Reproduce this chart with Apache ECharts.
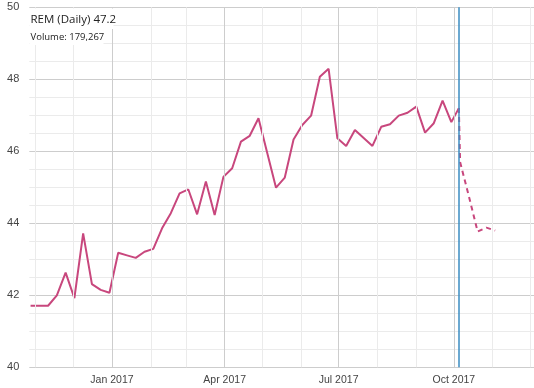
<!DOCTYPE html>
<html><head><meta charset="utf-8">
<script src="https://cdn.jsdelivr.net/npm/echarts@6/dist/echarts.min.js"></script>
<style>html,body{margin:0;padding:0;background:#fff}#c{width:534px;height:388px}</style>
</head><body><div id="c"></div>
<script>
// ---- data ----
const actualDates = [
 '2016-10-28','2016-11-04','2016-11-11','2016-11-18','2016-11-25','2016-12-02','2016-12-09','2016-12-16','2016-12-23','2016-12-30',
 '2017-01-06','2017-01-13','2017-01-20','2017-01-27','2017-02-03','2017-02-10','2017-02-17','2017-02-24','2017-03-03','2017-03-10',
 '2017-03-17','2017-03-24','2017-03-31','2017-04-07','2017-04-14','2017-04-21','2017-04-28','2017-05-05','2017-05-12','2017-05-19',
 '2017-05-26','2017-06-02','2017-06-09','2017-06-16','2017-06-23','2017-06-30','2017-07-07','2017-07-14','2017-07-21','2017-07-28',
 '2017-08-04','2017-08-11','2017-08-18','2017-08-25','2017-09-01','2017-09-08','2017-09-15','2017-09-22','2017-09-29','2017-10-05'
];
const actualValues = [
 41.71,41.71,41.71,42.00,42.63,41.92,43.72,42.31,42.15,42.07,
 43.18,43.11,43.04,43.21,43.29,43.86,44.28,44.83,44.94,44.25,
 45.16,44.23,45.29,45.53,46.27,46.43,46.92,45.95,44.99,45.27,
 46.33,46.73,46.99,48.07,48.29,46.36,46.15,46.59,46.37,46.15,
 46.68,46.75,46.99,47.07,47.24,46.52,46.78,47.41,46.81,47.20
];
const forecastDates = ['2017-10-05','2017-10-06','2017-10-13','2017-10-20','2017-10-27','2017-11-03'];
const forecastValues = [47.20,45.70,44.75,43.77,43.88,43.80];
const monthLines = ['2016-11-01','2016-12-01','2017-01-01','2017-02-01','2017-03-01','2017-04-01','2017-05-01',
 '2017-06-01','2017-07-01','2017-08-01','2017-09-01','2017-10-01','2017-11-01','2017-12-01'];
const quarterLabels = ['2017-01-01','2017-04-01','2017-07-01','2017-10-01'];
const monthNames = ['Jan','Feb','Mar','Apr','May','Jun','Jul','Aug','Sep','Oct','Nov','Dec'];
const markerDate = '2017-10-05';
const headline = 'REM (Daily) 47.2';
const volumeText = 'Volume: 179,267';
const xMin = '2016-10-27', xMax = '2017-12-04';
const yMin = 40, yMax = 50, yStep = 0.5;

function ts(s){ const p = s.split('-').map(Number); return Date.UTC(p[0], p[1]-1, p[2]); }

const chart = echarts.init(document.getElementById('c'), null, {renderer:'canvas'});
const lineColor = '#c8477d';
const majorGrid = '#cdcdcd', minorGrid = '#ebebeb';

chart.setOption({
  animation:false,
  grid:{left:29.3, right:0, top:7.3, bottom:20.7, containLabel:false},
  xAxis:{
    type:'value', min:ts(xMin), max:ts(xMax), scale:true,
    axisLine:{show:false}, axisTick:{show:false}, splitLine:{show:false},
    axisLabel:{
      customValues: quarterLabels.map(ts),
      formatter: v => { const d = new Date(v); return monthNames[d.getUTCMonth()] + ' ' + d.getUTCFullYear(); },
      color:'#444', fontSize:10.5, fontFamily:'"Liberation Sans", Arial, sans-serif', margin:7, hideOverlap:false
    }
  },
  yAxis:{
    type:'value', min:yMin, max:yMax, interval:yStep,
    axisLine:{show:false}, axisTick:{show:false},
    splitLine:{show:true, lineStyle:{color:[majorGrid, minorGrid, minorGrid, minorGrid], width:1}},
    axisLabel:{
      formatter: v => (Math.abs(v % 2) < 1e-9 ? String(v) : ''),
      color:'#444', fontSize:11, fontFamily:'"Liberation Sans", Arial, sans-serif', margin:10
    }
  },
  series:[
    {
      type:'line', data:[], z:1, silent:true,
      markLine:{
        silent:true, symbol:['none','none'], label:{show:false}, animation:false,
        emphasis:{disabled:true},
        data: monthLines.map(d => ({xAxis: ts(d), lineStyle:{color: quarterLabels.includes(d) ? majorGrid : minorGrid, width:1, type:'solid'}}))
          .concat([{xAxis: ts(markerDate), lineStyle:{color:'#3b8cc2', width:1.5, type:'solid'}}])
      }
    },
    {
      type:'line', z:3, showSymbol:false, symbol:'none',
      data: actualDates.map((d,i) => [ts(d), actualValues[i]]),
      lineStyle:{color:lineColor, width:2}, itemStyle:{color:lineColor}
    },
    {
      type:'line', z:3, showSymbol:false, symbol:'none',
      data: forecastDates.map((d,i) => [ts(d), forecastValues[i]]),
      lineStyle:{color:lineColor, width:2, type:[5,4]}, itemStyle:{color:lineColor}
    }
  ],
  graphic:[
    {type:'rect', shape:{x:29.5, y:8.5, width:84, height:20.5}, style:{fill:'#fff'}, z:50},
    {type:'rect', shape:{x:29.5, y:29, width:74, height:16}, style:{fill:'#fff'}, z:50},
    {type:'text', x:30.5, y:19.5, z:51, style:{text:headline, font:'11.5px "Open Sans", sans-serif', fill:'#222', textVerticalAlign:'middle'}},
    {type:'text', x:30.5, y:37.5, z:51, style:{text:volumeText, font:'9.5px "Open Sans", sans-serif', fill:'#222', textVerticalAlign:'middle'}}
  ]
});
</script></body></html>
